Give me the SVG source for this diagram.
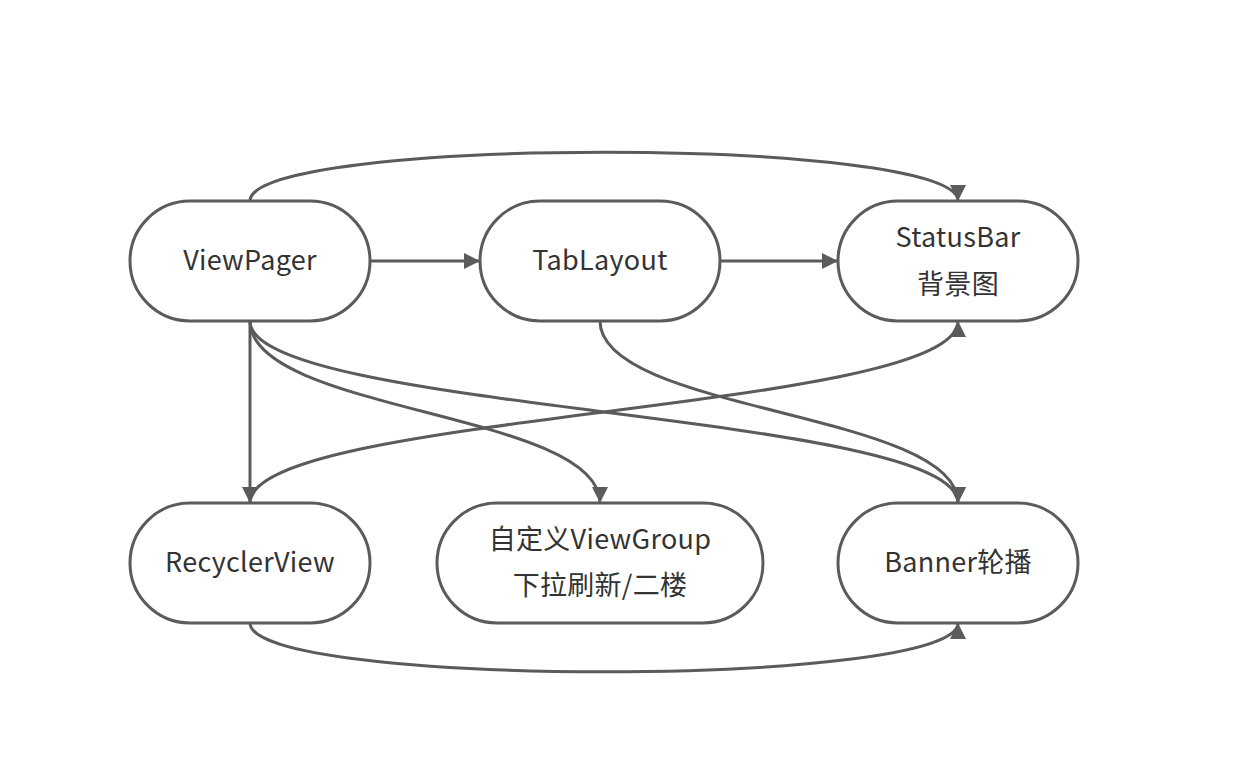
<svg xmlns="http://www.w3.org/2000/svg" width="1244" height="772" viewBox="0 0 1244 772">
<style>
.node rect{fill:#fff;stroke:#5b5b5b;stroke-width:3}
.node text{font-family:"Noto Sans CJK SC","Liberation Sans",sans-serif;font-size:27px;fill:#333;text-anchor:middle;dominant-baseline:central;letter-spacing:0.3px}
.edge{fill:none;stroke:#5b5b5b;stroke-width:3}
</style>
<defs>
<marker id="arr" markerUnits="userSpaceOnUse" markerWidth="18" markerHeight="18" viewBox="0 0 18 18" refX="17" refY="9" orient="auto">
<path d="M1,1 L17,9 L1,17 Z" fill="#5b5b5b"/>
</marker>
</defs>
<rect width="1244" height="772" fill="#fff"/>
<g id="connectors">
<path class="edge" d="M250,201 C250,136 958,136 958,201" marker-end="url(#arr)"/>
<path class="edge" d="M370,261 L480,261" marker-end="url(#arr)"/>
<path class="edge" d="M720,261 L838,261" marker-end="url(#arr)"/>
<path class="edge" d="M250,321 L250,503" marker-end="url(#arr)"/>
<path class="edge" d="M250,321 C250,412 600,412 600,503" marker-end="url(#arr)"/>
<path class="edge" d="M250,321 C250,412 958,412 958,503" marker-end="url(#arr)"/>
<path class="edge" d="M600,321 C600,412 958,412 958,503" marker-end="url(#arr)"/>
<path class="edge" d="M250,503 C250,412 958,412 958,321" marker-end="url(#arr)"/>
<path class="edge" d="M250,623 C250,688 958,688 958,623" marker-end="url(#arr)"/>
</g>
<g id="viewpager" class="node"><rect x="130" y="201" width="240" height="120" rx="60"/><text x="250" y="258">ViewPager</text></g>
<g id="tablayout" class="node"><rect x="480" y="201" width="240" height="120" rx="60"/><text x="600" y="258">TabLayout</text></g>
<g id="statusbar" class="node"><rect x="838" y="201" width="240" height="120" rx="60"/><text x="958" y="235">StatusBar</text><text x="958" y="282">背景图</text></g>
<g id="recyclerview" class="node"><rect x="130" y="503" width="240" height="120" rx="60"/><text x="250" y="560">RecyclerView</text></g>
<g id="viewgroup" class="node"><rect x="437" y="503" width="326" height="120" rx="60"/><text x="600" y="537">自定义ViewGroup</text><text x="600" y="583">下拉刷新/二楼</text></g>
<g id="banner" class="node"><rect x="838" y="503" width="240" height="120" rx="60"/><text x="958" y="560">Banner轮播</text></g>
</svg>
